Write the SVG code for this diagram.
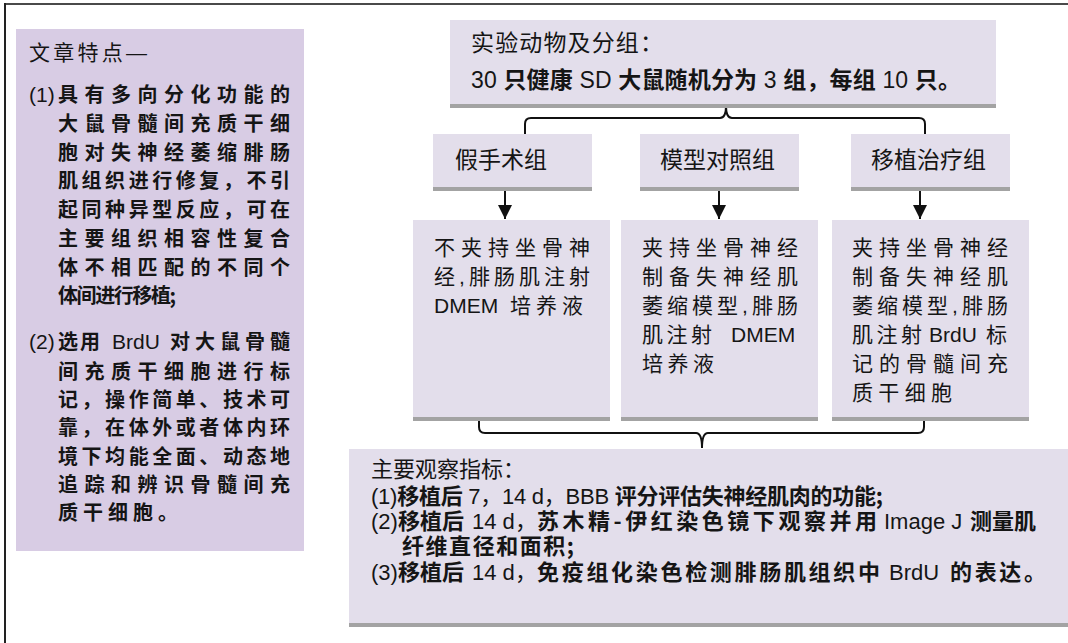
<svg xmlns="http://www.w3.org/2000/svg" width="1068" height="643" viewBox="0 0 1068 643">
<defs>
<style>
.t{font-family:"Liberation Sans","Noto Sans CJK SC",sans-serif;fill:#151515;}
.b{font-family:"Noto Sans CJK SC",sans-serif;font-weight:700;}
.box{fill:#e3deeb;}
.bar{fill:#a3a3a3;}
.conn{fill:none;stroke:#111;stroke-width:2;}
</style>
<marker id="ah" markerUnits="userSpaceOnUse" markerWidth="14" markerHeight="14" refX="14" refY="7" orient="auto">
<path d="M0,0 L14,7 L0,14 z" fill="#111"/>
</marker>
</defs>
<rect width="1068" height="643" fill="#fff"/>
<path d="M4,4 H1068" stroke="#4a4a4a" stroke-width="2"/>
<path d="M5,3 V643" stroke="#222" stroke-width="2"/>

<g id="features">
<rect x="16" y="29" width="288" height="522" fill="#d8cce4"/>
<text class="t" x="29" y="60" font-size="21" textLength="118" lengthAdjust="spacing">文章特点—</text>
<g font-size="20">
<text class="t" x="29" y="102" font-size="21">(1)</text>
<text class="t b" x="58" y="102" textLength="232" lengthAdjust="spacing">具有多向分化功能的</text>
<text class="t b" x="58" y="131" textLength="232" lengthAdjust="spacing">大鼠骨髓间充质干细</text>
<text class="t b" x="58" y="160" textLength="232" lengthAdjust="spacing">胞对失神经萎缩腓肠</text>
<text class="t b" x="58" y="188" textLength="232" lengthAdjust="spacing">肌组织进行修复，不引</text>
<text class="t b" x="58" y="217" textLength="232" lengthAdjust="spacing">起同种异型反应，可在</text>
<text class="t b" x="58" y="246" textLength="232" lengthAdjust="spacing">主要组织相容性复合</text>
<text class="t b" x="58" y="275" textLength="232" lengthAdjust="spacing">体不相匹配的不同个</text>
<text class="t b" x="58" y="303" textLength="118" lengthAdjust="spacing">体间进行移植;</text>
<text class="t" x="29" y="349" font-size="21">(2)<tspan class="b" font-size="20" x="58" textLength="42" lengthAdjust="spacing">选用</tspan><tspan x="112">BrdU</tspan><tspan class="b" font-size="20" x="170" textLength="120" lengthAdjust="spacing">对大鼠骨髓</tspan></text>
<text class="t b" x="58" y="379" textLength="232" lengthAdjust="spacing">间充质干细胞进行标</text>
<text class="t b" x="58" y="407" textLength="232" lengthAdjust="spacing">记，操作简单、技术可</text>
<text class="t b" x="58" y="435" textLength="232" lengthAdjust="spacing">靠，在体外或者体内环</text>
<text class="t b" x="58" y="464" textLength="232" lengthAdjust="spacing">境下均能全面、动态地</text>
<text class="t b" x="58" y="492" textLength="232" lengthAdjust="spacing">追踪和辨识骨髓间充</text>
<text class="t b" x="58" y="520" textLength="120" lengthAdjust="spacing">质干细胞。</text>
</g>
</g>

<g id="connectors">
<path class="conn" d="M525,134 V124 Q525,118 531,118 H720 Q726,118 726,106 Q726,118 732,118 H919 Q925,118 925,124 V134"/>
<path class="conn" d="M505,191 V219" marker-end="url(#ah)"/>
<path class="conn" d="M719,191 V219" marker-end="url(#ah)"/>
<path class="conn" d="M920,191 V219" marker-end="url(#ah)"/>
<path class="conn" d="M479,421 V427 Q479,433 485,433 H696 Q702,433 702,448 Q702,433 708,433 H918 Q924,433 924,427 V421"/>
</g>

<g id="animals">
<rect class="box" x="450" y="20" width="546" height="84"/>
<rect class="bar" x="450" y="104" width="546" height="4"/>
<text class="t" x="471" y="51" font-size="23" textLength="192" lengthAdjust="spacing">实验动物及分组：</text>
<text class="t" x="471" y="88" font-size="23" textLength="490" lengthAdjust="spacing">30 <tspan class="b">只健康</tspan> SD <tspan class="b">大鼠随机分为</tspan> 3 <tspan class="b">组，每组</tspan> 10 <tspan class="b">只。</tspan></text>
</g>

<g id="group1">
<rect class="box" x="433" y="134" width="159" height="53"/>
<rect class="bar" x="433" y="187" width="159" height="4"/>
<text class="t" x="455" y="168" font-size="23">假手术组</text>
</g>
<g id="group2">
<rect class="box" x="640" y="134" width="159" height="53"/>
<rect class="bar" x="640" y="187" width="159" height="4"/>
<text class="t" x="660" y="168" font-size="23">模型对照组</text>
</g>
<g id="group3">
<rect class="box" x="851" y="134" width="159" height="53"/>
<rect class="bar" x="851" y="187" width="159" height="4"/>
<text class="t" x="871" y="168" font-size="23">移植治疗组</text>
</g>

<g id="detail1" font-size="21">
<rect class="box" x="413" y="220" width="197" height="197"/>
<rect class="bar" x="413" y="417" width="197" height="4"/>
<text class="t" x="434" y="255" textLength="156" lengthAdjust="spacing">不夹持坐骨神</text>
<text class="t" x="434" y="284" textLength="156" lengthAdjust="spacing">经,腓肠肌注射</text>
<text class="t" x="434" y="313">DMEM<tspan x="510" textLength="73" lengthAdjust="spacing">培养液</tspan></text>
</g>
<g id="detail2" font-size="21">
<rect class="box" x="621" y="220" width="197" height="197"/>
<rect class="bar" x="621" y="417" width="197" height="4"/>
<text class="t" x="642" y="255" textLength="156" lengthAdjust="spacing">夹持坐骨神经</text>
<text class="t" x="642" y="284" textLength="156" lengthAdjust="spacing">制备失神经肌</text>
<text class="t" x="642" y="313" textLength="156" lengthAdjust="spacing">萎缩模型,腓肠</text>
<text class="t" x="642" y="342"><tspan textLength="70" lengthAdjust="spacing">肌注射</tspan><tspan x="731">DMEM</tspan></text>
<text class="t" x="642" y="371" textLength="72" lengthAdjust="spacing">培养液</text>
</g>
<g id="detail3" font-size="21">
<rect class="box" x="832" y="220" width="197" height="197"/>
<rect class="bar" x="832" y="417" width="197" height="4"/>
<text class="t" x="852" y="255" textLength="156" lengthAdjust="spacing">夹持坐骨神经</text>
<text class="t" x="852" y="284" textLength="156" lengthAdjust="spacing">制备失神经肌</text>
<text class="t" x="852" y="313" textLength="156" lengthAdjust="spacing">萎缩模型,腓肠</text>
<text class="t" x="852" y="342"><tspan textLength="70" lengthAdjust="spacing">肌注射</tspan><tspan x="929">BrdU</tspan><tspan x="986">标</tspan></text>
<text class="t" x="852" y="371" textLength="156" lengthAdjust="spacing">记的骨髓间充</text>
<text class="t" x="852" y="400" textLength="100" lengthAdjust="spacing">质干细胞</text>
</g>

<g id="indicators" font-size="22">
<rect class="box" x="349" y="449" width="719" height="174"/>
<rect class="bar" x="349" y="623" width="719" height="4"/>
<text class="t" x="371" y="477">主要观察指标：</text>
<text class="t" x="371" y="504" textLength="512" lengthAdjust="spacing">(1)<tspan class="b">移植后</tspan> 7，14 d，BBB <tspan class="b">评分评估失神经肌肉的功能;</tspan></text>
<text class="t" x="371" y="529">(2)<tspan class="b" x="398">移植后</tspan><tspan x="472">14 d</tspan><tspan x="515">，</tspan><tspan class="b" x="537" textLength="340" lengthAdjust="spacing">苏木精-伊红染色镜下观察并用</tspan><tspan x="884">Image J</tspan><tspan class="b" x="970">测量肌</tspan></text>
<text class="t b" x="402" y="554" textLength="172" lengthAdjust="spacing">纤维直径和面积;</text>
<text class="t" x="371" y="580">(3)<tspan class="b" x="398">移植后</tspan><tspan x="472">14 d</tspan><tspan x="515">，</tspan><tspan class="b" x="537" textLength="343" lengthAdjust="spacing">免疫组化染色检测腓肠肌组织中</tspan><tspan x="889">BrdU</tspan><tspan class="b" x="950" textLength="96" lengthAdjust="spacing">的表达。</tspan></text>
</g>
</svg>
